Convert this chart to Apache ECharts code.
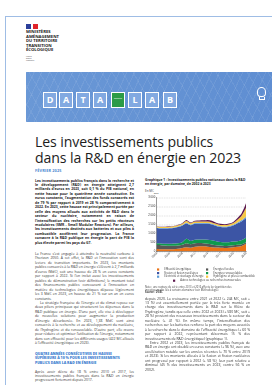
<!DOCTYPE html>
<html>
<head>
<meta charset="utf-8">
<script src="https://cdn.jsdelivr.net/npm/echarts@6/dist/echarts.min.js"></script>
<style>
  html, body { margin: 0; padding: 0; background: #fff; }
  body { width: 272px; height: 385px; position: relative; overflow: hidden; font-family: "Open Sans", "Noto Sans", sans-serif; color: #2a2a2a; }
  .abs { position: absolute; }
  .frame-top { left: 5px; top: 16px; width: 267px; height: 1px; background: #9fbde5; }
  .frame-left { left: 5px; top: 16px; width: 1px; height: 369px; background: #9fbde5; }
  .flag { left: 26px; top: 24px; width: 12px; height: 5px; background: linear-gradient(90deg, #2b3f9a 0 38%, #fff 38% 55%, #e1242b 55% 100%); }
  .ministere { left: 26px; top: 30px; font-size: 4.2px; line-height: 4.5px; font-weight: 700; color: #1b1b1b; }
  .devise { left: 26px; top: 56px; font-size: 1.9px; line-height: 2.2px; font-style: italic; color: #444; }
  .banner { left: 26px; top: 72px; width: 246px; height: 50px;
    background:
      repeating-linear-gradient(115deg, rgba(255,255,255,0.08) 0 1px, transparent 1px 7px),
      repeating-linear-gradient(60deg, rgba(255,255,255,0.07) 0 1px, transparent 1px 9px),
      linear-gradient(90deg, #6a98d6, #5f8ed2); }
  .box { top: 92px; width: 12px; height: 14px; border: 1px solid #fff; background: #82a9e1; color: #fff; font-weight: 700; font-size: 9px; line-height: 14px; text-align: center; font-family: "Open Sans", sans-serif; }
  .box.green { background: #2c9b47; font-size: 2px; font-weight: 400; line-height: 12px; }
  .bulb { left: 257px; top: 87px; width: 7px; height: 8px; border: 1px solid #fff; border-radius: 50% 50% 40% 40%; }
  .bulb2 { left: 259px; top: 97px; width: 4px; height: 2px; border: 1px solid #fff; border-top: none; }
  .title { left: 35px; font-size: 14.1px; line-height: 15px; color: #1d1d1d; font-weight: 500; letter-spacing: -0.1px; white-space: nowrap; }
  .date { left: 35px; top: 168px; font-size: 3.8px; font-weight: 700; color: #4a86d0; letter-spacing: 0.15px; }
  .txt { font-size: 3.45px; line-height: 4.45px; text-align: justify; color: #333; }
  .lead { font-weight: 700; color: #222; }
  .ind { text-indent: 5px; }
  .head { font-size: 3.5px; line-height: 4.35px; font-weight: 800; color: #3f7fd0; }
  .ctitle { left: 145px; top: 178px; width: 104px; font-size: 3.3px; line-height: 3.9px; font-weight: 700; color: #222; }
  .unit { left: 145px; top: 188.5px; font-size: 3px; color: #333; }
  .note { left: 145px; top: 286px; width: 106px; font-size: 2.6px; line-height: 2.7px; color: #444; }
  #chart { left: 138px; top: 194px; width: 134px; height: 92px; }
</style>
</head>
<body>
<div class="abs frame-top"></div>
<div class="abs frame-left"></div>
<div class="abs flag"></div>
<div class="abs ministere">MINISTÈRES<br>AMÉNAGEMENT<br>DU TERRITOIRE<br>TRANSITION<br>ÉCOLOGIQUE</div>
<div class="abs devise">Liberté<br>Égalité<br>Fraternité</div>

<div class="abs banner"></div>
<div class="abs box" style="left:43px">D</div>
<div class="abs box" style="left:59px">A</div>
<div class="abs box" style="left:76px">T</div>
<div class="abs box" style="left:93px">A</div>
<div class="abs box green" style="left:111px">Essentiel</div>
<div class="abs box" style="left:128px">L</div>
<div class="abs box" style="left:145px">A</div>
<div class="abs box" style="left:163px">B</div>
<div class="abs bulb"></div>
<div class="abs bulb2"></div>

<div class="abs title" style="top:133.5px">Les investissements publics</div>
<div class="abs title" style="top:149.5px">dans la R&amp;D en énergie en 2023</div>
<div class="abs date">FÉVRIER 2025</div>

<div class="abs txt lead" style="left:35px; top:178.5px; width:99px;">Les investissements publics français dans la recherche et le développement (R&amp;D) en énergie atteignent 2,7 milliards d’euros en 2023, soit 0,1 % du PIB national, en nette hausse pour la quatrième année consécutive. En euros constants, l’augmentation des fonds consacrés est de 79 % par rapport à 2019 et 28 % comparativement à 2022. En 2023, cette hausse est principalement portée par celle des moyens alloués aux activités de R&amp;D dans le secteur du nucléaire, notamment en raison de l’intensification des recherches sur les petits réacteurs modulaires (SMR - Small Modular Reactors). Par ailleurs, les investissements destinés aux batteries et aux piles à combustible accélèrent leur progression. La France consacre à la R&amp;D publique en énergie la part de PIB la plus élevée parmi les pays du G7.</div>

<div class="abs txt" style="left:35px; top:252px; width:99px;">La France s’est engagée à atteindre la neutralité carbone à l’horizon 2050. À cet effet, la R&amp;D et l’innovation sont des leviers de transition importants. En 2023, les montants publics consacrés à la R&amp;D en énergie s’élèvent à 2,7 milliards d’euros (Md€), soit une hausse de 28 % en euros constants par rapport à 2022. Si l’on inclut aussi les investissements publics de démonstration (voir définitions), le montant total des financements publics concourant à l’innovation en matière de technologies énergétiques dépasse légèrement les 3 Md€ en 2023, en hausse de 21 % sur un an en euros constants.
<div class="ind">La stratégie française de l’énergie et du climat repose sur deux piliers principaux qui structurent les dépenses dans la R&amp;D publique en énergie. D’une part, elle vise à développer de nouvelles solutions pour augmenter la production d’énergie décarbonée. En 2023, 1,38 Md€ sont ainsi consacrés à la recherche et au développement du nucléaire, de l’hydrogène et du renouvelable. D’autre part, elle œuvre pour réduire et optimiser l’utilisation de l’énergie, notamment dans son efficacité pour les différents usages (422 M€ alloués à l’efficacité énergétique en 2023).</div></div>

<div class="abs head" style="left:35px; top:352px; width:99px;">QUATRE ANNÉES CONSÉCUTIVES DE HAUSSE SUPÉRIEURE À 10 % POUR LES INVESTISSEMENTS PUBLICS DANS LA R&amp;D EN ÉNERGIE</div>

<div class="abs txt" style="left:35px; top:369.5px; width:99px;">Après avoir décru de 18 % entre 2010 et 2017, les investissements publics français dans la R&amp;D en énergie progressent fortement depuis 2017.</div>

<div class="abs ctitle">Graphique 1 : Investissements publics nationaux dans la R&amp;D en énergie, par domaine, de 2002 à 2023</div>
<div class="abs unit">En M€<sub style="font-size:2px">2023</sub></div>
<div id="chart" class="abs"></div>
<div class="abs note">Note : une rupture de série entre 2013 et 2016 affecte la répartition des investissements liés à certains domaines (voir Méthodologie).<br><b>Source : DGEC</b></div>

<div class="abs txt" style="left:145px; top:296.5px; width:105px;">depuis 2020. La croissance entre 2021 et 2022 (+ 244 M€, soit + 13 %) est essentiellement portée par la très forte montée en charge des investissements dans la R&amp;D sur la filière de l’hydrogène, tandis que celle entre 2022 et 2023 (+ 580 M€, soit + 28 %) provient des nouveaux investissements dans le secteur du nucléaire (+ 41 %). En même temps, l’intensification des recherches sur les batteries renforce la part des moyens associés à la recherche dans le domaine de l’efficacité énergétique (+ 60 % par rapport à 2022, représentant désormais 15 % des investissements de R&amp;D énergétique) (graphique 1).
<div class="ind">Entre 2002 et 2023, les investissements publics français de R&amp;D en énergie ont doublé en euros constants (+ 96 %), avec une accélération notable sur les années récentes (+ 70 % entre 2019 et 2023). Si les montants alloués à la fusion et fission nucléaires ont progressé par rapport à 2002 (+ 58 %), leur part relative a diminué (45 % des investissements en 2023, contre 56 % en 2002).</div></div>

<script>
// années et investissements par domaine (M€ 2023)
var years = ['2002','2003','2004','2005','2006','2007','2008','2009','2010','2011','2012',
             '2013','2014','2015','2016','2017','2018','2019','2020','2021','2022','2023'];
var efficacite   = [130,120,110,110,120,140,180,220,200,250,280,280,260,230,210,200,190,200,230,260,300,420];
var fossiles     = [220,220,210,200,190,180,180,230,200,200,180,170,160,150,130,120,110,110,110,100,100,90];
var renouvelables= [100,100,100,110,120,130,150,250,180,200,200,210,220,230,220,200,200,200,200,200,230,250];
var nucleaire    = [850,830,850,860,870,900,920,850,870,890,880,880,900,880,850,830,840,860,900,1000,1050,1100];
var stockage     = [30,30,30,30,30,30,30,40,40,40,40,40,40,40,40,40,40,40,40,50,60,70];
var hydrogene    = [50,50,50,60,60,70,80,100,80,80,80,80,80,80,80,80,80,90,100,150,250,500];
var autres       = [20,20,20,20,20,30,30,60,40,50,60,70,90,90,60,60,50,50,60,100,150,250];

var names = ['Efficacité énergétique','Énergies fossiles','Énergies renouvelables',
             'Fission et fusion nucléaires','Électricité et stockage d\'énergie',
             'Hydrogène et piles à combustible','Autres technologies ou recherches transversales'];
var values = [efficacite, fossiles, renouvelables, nucleaire, stockage, hydrogene, autres];
var colors = ['#ea7317','#575757','#0e9a4c','#3c55a5','#5b9bd5','#f6c744','#5e1a4f'];

var chart = echarts.init(document.getElementById('chart'), null, {renderer: 'canvas'});

var legendText = {fontSize: 2.7, color: '#333', lineHeight: 3, fontFamily: 'Open Sans'};
var option = {
  animation: false,
  color: colors,
  grid: {left: 18.7, right: 26, top: 3.5, bottom: 34.7},
  legend: [
    {orient: 'vertical', left: 14, top: 69, itemWidth: 2.2, itemHeight: 2.2, itemGap: 0.6, icon: 'rect',
     data: [names[0], names[3], names[4]], textStyle: legendText},
    {orient: 'vertical', left: 63, top: 69, itemWidth: 2.2, itemHeight: 2.2, itemGap: 0.6, icon: 'rect',
     data: [names[1], names[2], names[5]], textStyle: legendText},
    {orient: 'vertical', left: 30, top: 80.2, itemWidth: 2.2, itemHeight: 2.2, icon: 'rect',
     data: [names[6]], textStyle: legendText}
  ],
  xAxis: {
    type: 'category', data: years, boundaryGap: false,
    axisLine: {lineStyle: {color: '#333', width: 0.5}},
    axisTick: {show: true, interval: 2, length: 1, lineStyle: {width: 0.4}},
    axisLabel: {interval: 2, rotate: 45, fontSize: 2.8, color: '#333', margin: 1.5}
  },
  yAxis: {
    type: 'value', min: 0, max: 3000, interval: 500,
    axisLine: {show: true, lineStyle: {color: '#333', width: 0.5}},
    axisTick: {show: false},
    splitLine: {lineStyle: {color: '#bbb', width: 0.4, type: 'dashed'}},
    axisLabel: {fontSize: 2.8, color: '#333', margin: 1.5,
      formatter: function (v) { return v >= 1000 ? Math.floor(v/1000) + ' ' + String(v%1000).padStart(3,'0') : v; }}
  },
  series: values.map(function (d, i) {
    return {name: names[i], type: 'line', stack: 'total', data: d, smooth: 0.35, symbol: 'none',
            lineStyle: {width: 0}, areaStyle: {opacity: 1, color: colors[i]}};
  })
};
chart.setOption(option);
</script>
</body>
</html>
